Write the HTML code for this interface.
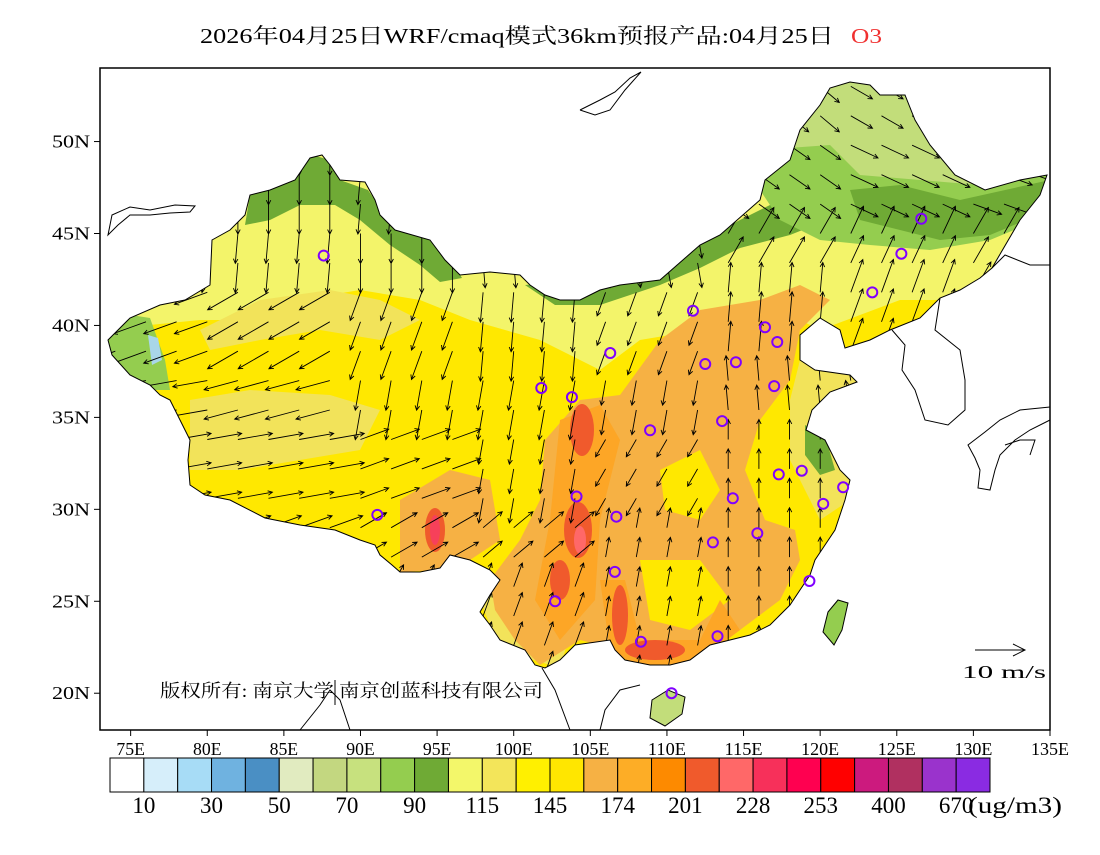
<!DOCTYPE html>
<html><head><meta charset="utf-8"><style>
body{margin:0;background:#fff}
svg text{font-family:"Liberation Serif","Noto Serif CJK SC",serif}
</style></head><body>
<svg id="chart" width="1100" height="850" viewBox="0 0 1100 850" xmlns="http://www.w3.org/2000/svg">
<defs>
<clipPath id="cn"><path id="cnpath" d="M108,340 L130,318 L160,305 L185,300 L210,285 L212,240 L230,230 L245,215 L250,195 L270,190 L295,180 L310,158 L322,155 L330,165 L340,180 L365,182 L375,200 L380,215 L395,230 L430,240 L445,260 L460,275 L490,272 L520,275 L530,285 L545,295 L560,300 L580,300 L600,290 L620,285 L660,280 L700,245 L720,235 L760,200 L765,180 L790,160 L800,130 L820,105 L830,88 L850,82 L870,85 L880,95 L905,95 L915,120 L930,145 L955,175 L985,190 L1020,180 L1047,175 L1040,195 L1020,220 L992,268 L980,278 L960,290 L940,298 L920,318 L890,330 L870,340 L845,348 L840,330 L820,318 L800,335 L800,360 L815,370 L850,375 L857,382 L830,392 L812,410 L806,430 L825,440 L840,470 L850,480 L845,500 L840,515 L835,530 L825,545 L815,560 L810,575 L800,590 L790,605 L770,625 L750,635 L730,640 L710,645 L690,660 L670,665 L650,665 L625,660 L615,650 L610,640 L575,645 L560,660 L545,668 L535,665 L525,650 L500,640 L490,625 L480,612 L490,595 L500,580 L490,570 L470,560 L450,555 L440,568 L420,572 L400,572 L392,565 L380,555 L375,545 L360,540 L335,530 L300,525 L265,518 L230,500 L205,495 L190,485 L188,460 L190,440 L180,420 L170,400 L160,395 L150,385 L130,375 L112,355 Z"/></clipPath>
</defs>
<rect x="0" y="0" width="1100" height="850" fill="#fff"/>
<text x="200" y="43" font-size="21" fill="#000" textLength="634" lengthAdjust="spacingAndGlyphs" font-family="Liberation Serif, Noto Serif CJK SC, serif">2026年04月25日WRF/cmaq模式36km预报产品:04月25日</text>
<text x="851" y="43" font-size="21" fill="#f03030" textLength="31" lengthAdjust="spacingAndGlyphs">O3</text>

<g>
<g clip-path="url(#cn)">
 <rect x="100" y="68" width="950" height="662" fill="#FFE800"/>
 <path fill="#F3F46A" d="M100,68 L1050,68 L1050,300 L900,300 L820,330 L760,300 L700,330 L640,340 L600,370 L540,340 L470,320 L420,300 L360,290 L300,300 L250,320 L200,320 L100,330Z"/>
 <path fill="#F2E35A" d="M200,330 L260,300 L330,290 L380,300 L420,320 L380,340 L320,330 L260,340 L210,350Z"/>
 <path fill="#F2E35A" d="M190,400 L250,390 L330,395 L380,410 L360,450 L300,460 L240,470 L190,470Z"/>
 <path fill="#F2E35A" d="M800,360 L860,370 L850,500 L820,520 L790,460 L790,400Z"/>
 <path fill="#F2E35A" d="M480,600 L540,560 L580,600 L560,668 L500,650Z"/>
 <path fill="#6FAA35" d="M245,225 L250,195 L295,180 L312,155 L330,160 L340,180 L368,190 L395,230 L440,242 L462,278 L440,282 L420,265 L390,245 L360,220 L335,205 L300,205 L270,220Z"/>
 <path fill="#94CD4F" d="M100,310 L150,318 L165,360 L170,390 L140,390 L100,370Z"/>
 <path fill="#A9D6E8" d="M148,335 L158,338 L162,360 L152,365Z"/>
 <path fill="#6FAA35" d="M525,285 L560,282 L600,285 L650,265 L700,240 L740,220 L780,200 L805,185 L840,215 L790,235 L740,248 L700,268 L660,285 L600,305 L555,305Z"/>
 <path fill="#C2DD7A" d="M750,68 L1050,68 L1050,200 L990,225 L930,230 L870,225 L820,215 L770,195 L750,180Z"/>
 <path fill="#94CD4F" d="M760,150 L830,145 L860,175 L920,180 L980,185 L1050,175 L1050,215 L990,240 L930,250 L870,245 L820,240 L780,220 L760,190Z"/>
 <path fill="#6FAA35" d="M850,190 L900,185 L960,200 L1050,180 L1050,210 L990,235 L940,240 L900,230 L860,220Z"/>
 <path fill="#6FAA35" d="M805,425 L825,435 L835,470 L820,475 L805,455Z"/>
 <path fill="#F6B144" d="M545,440 L580,400 L620,395 L660,340 L700,310 L760,300 L800,285 L830,300 L800,330 L790,380 L760,420 L745,470 L765,520 L795,530 L800,560 L780,600 L740,630 L700,660 L650,668 L620,650 L580,640 L540,665 L515,640 L495,610 L490,580 L520,540 L540,500Z"/>
 <path fill="#F6B144" d="M400,500 L450,470 L490,480 L500,540 L470,560 L440,570 L400,572Z"/>
 <path fill="#FFE800" d="M640,560 L700,560 L730,600 L690,630 L650,620Z"/>
 <path fill="#FFE800" d="M660,470 L700,450 L720,490 L700,520 L665,510Z"/>
 <path fill="#FDA626" d="M560,420 L600,405 L620,440 L600,520 L595,600 L560,640 L535,600 L550,520Z"/>
 <path fill="#FDA626" d="M600,580 L625,580 L640,640 L700,640 L720,600 L740,630 L700,660 L640,668 L610,650Z"/>
 <ellipse cx="582" cy="430" rx="12" ry="26" fill="#F05A2C"/>
 <ellipse cx="578" cy="530" rx="14" ry="28" fill="#F05A2C"/>
 <ellipse cx="560" cy="580" rx="10" ry="20" fill="#F05A2C"/>
 <ellipse cx="620" cy="615" rx="8" ry="30" fill="#F05A2C"/>
 <ellipse cx="655" cy="650" rx="30" ry="10" fill="#F05A2C"/>
 <ellipse cx="435" cy="530" rx="10" ry="22" fill="#F05A2C"/>
 <ellipse cx="435" cy="530" rx="5" ry="15" fill="#F7405A"/>
 <ellipse cx="580" cy="540" rx="6" ry="14" fill="#FF6868"/>
 <g id="arrows"></g>
</g>
<use href="#cnpath" fill="none" stroke="#000" stroke-width="1"/>
<path d="M652,700 L668,690 L685,697 L682,714 L665,726 L650,718Z" fill="#C2DD7A" stroke="#000"/>
<path d="M838,600 L848,603 L842,630 L834,645 L823,632 L828,612Z" fill="#94CD4F" stroke="#000"/>
<g fill="none" stroke="#000" stroke-width="1">
 <path d="M580,110 L600,100 L615,92 L630,78 L641,72 M580,110 L595,115 L610,110 L625,90 L641,72"/>
 <path d="M108,235 L112,215 L130,207 L150,210 L175,205 L195,206 L190,212 L170,213 L150,215 L130,215 L118,225 Z"/>
 <path d="M992,268 L1005,255 L1030,265 L1050,265 M940,298 L935,330 L960,350 L965,380 L965,410 L948,425 L925,420 L915,390 L902,370 L905,345 L892,330"/>
 <path d="M1050,407 L1020,410 L1000,420 L985,432 L968,445 L975,458 L980,470 L978,488 L990,490 L995,470 L1000,455 L1015,440 L1030,430 L1050,420 M1005,445 L1020,440 L1035,440 L1030,455"/>
 <path d="M300,730 L320,705 L330,690 L340,700 L350,730 M600,730 L605,710 L620,690 L640,685 M542,668 L555,690 L570,730"/>
</g>
<g id="stations" fill="none" stroke="#8000ff" stroke-width="2"></g>
<g id="legend-arrow">
 <line x1="975" y1="650" x2="1025" y2="650" stroke="#000"/>
 <path d="M1013,644 L1025,650 L1013,656" fill="none" stroke="#000"/>
 <text x="962" y="678" font-size="18" textLength="84" lengthAdjust="spacingAndGlyphs">10 m/s</text>
</g>
<text x="160" y="697" font-size="18" textLength="383" lengthAdjust="spacingAndGlyphs" font-family="Noto Serif CJK SC, serif">版权所有: 南京大学  南京创蓝科技有限公司</text>
<line x1="335" y1="680" x2="335" y2="705" stroke="#000"/>
<rect x="100" y="68" width="950" height="662" fill="none" stroke="#000" stroke-width="1.5"/>
</g>
<g id="axes"></g>
<g id="colorbar"></g>
<text x="968" y="813" font-size="23" textLength="94" lengthAdjust="spacingAndGlyphs">(ug/m3)</text>
</svg>
<script>
const NS='http://www.w3.org/2000/svg';
const lonTicks=[75,80,85,90,95,100,105,110,115,120,125,130,135];
const latTicks=[20,25,30,35,40,45,50];
const cbColors=['#FFFFFF','#D6EEFA','#A7DCF6','#6FB2E0','#4A8FC4','#E1EBC0','#C3D780','#C7E17E','#94CD4F','#6FAA35','#F3F76A','#F3E55A','#FFF000','#FFE600','#F6B144','#FDAD26','#FD8A00','#F05A2C','#FF6868','#F7305A','#FF0050','#FF0000','#CC1A7E','#B03060','#9A33CC','#8A2BE2'];
const cbLabels=['10','30','50','70','90','115','145','174','201','228','253','400','670'];
const stationLon=[87.6,91.1,101.8,103.8,106.3,111.7,112.5,114.5,116.4,117.2,117.0,113.6,108.9,104.1,106.6,113.0,114.3,115.9,117.3,118.8,120.2,121.5,119.3,102.7,106.7,108.3,113.3,110.3,125.3,123.4,126.6];
const stationLat=[43.8,29.7,36.6,36.1,38.5,40.8,37.9,38.0,39.9,39.1,36.7,34.8,34.3,30.7,26.6,28.2,30.6,28.7,31.9,32.1,30.3,31.2,26.1,25.0,29.6,22.8,23.1,20.0,43.9,41.8,45.8];
const gridLatEdges=[54,50,46,42,38,34,30,26,18];
const gridLonEdges=[73,81,89,97,105,113,121,129,135];
const windDir=[
 [95,95,95,90,60,40,30,30],
 [90,90,95,90,60,35,25,20],
 [100,95,90,85,80,-60,-65,-60],
 [160,150,110,95,110,-85,-70,-60],
 [170,165,100,100,100,-95,-100,-90],
 [-10,-10,-20,100,120,-90,-90,-90],
 [-20,-20,-30,-40,-80,-90,-95,-95],
 [-60,-60,-60,-70,-80,-90,-90,-90]];
const windSpd=[
 [6,6,6,5,5,5,5,5],
 [6,6,6,5,5,5,6,6],
 [6,6,6,5,5,6,6,6],
 [7,7,6,6,5,6,7,7],
 [7,7,6,6,5,5,6,6],
 [7,7,6,5,4,4,5,5],
 [7,7,6,5,4,4,5,5],
 [5,5,5,5,4,4,5,5]];

const X=lon=>100+(lon-73)*(950/62);
const Y=lat=>68+(54-lat)*(662/36);

const axes=document.getElementById('axes');
lonTicks.forEach(l=>{
 const t=document.createElementNS(NS,'line');
 t.setAttribute('x1',X(l));t.setAttribute('x2',X(l));t.setAttribute('y1',730);t.setAttribute('y2',736);t.setAttribute('stroke','#000');
 
 
 axes.appendChild(t);
 const s=document.createElementNS(NS,'text');
 const lab=l+'E';
 s.setAttribute('x',X(l)-(lab.length*9.5)/2);s.setAttribute('y',755);s.setAttribute('font-size','18');
 s.setAttribute('textLength',lab.length*9.5);s.setAttribute('lengthAdjust','spacingAndGlyphs');
 s.textContent=lab;
 
 
 axes.appendChild(s);
});
latTicks.forEach(l=>{
 const t=document.createElementNS(NS,'line');
 t.setAttribute('x1',94);t.setAttribute('x2',100);t.setAttribute('y1',Y(l));t.setAttribute('y2',Y(l));t.setAttribute('stroke','#000');
 
 
 axes.appendChild(t);
 const s=document.createElementNS(NS,'text');
 s.setAttribute('x',52);s.setAttribute('y',Y(l)+6);s.setAttribute('font-size','18');
 s.setAttribute('textLength',38);s.setAttribute('lengthAdjust','spacingAndGlyphs');
 s.textContent=l+'N';
 
 
 axes.appendChild(s);
});

const cb=document.getElementById('colorbar');
const cbX=110,cbW=880/cbColors.length;
cbColors.forEach((c,i)=>{
 const r=document.createElementNS(NS,'rect');
 r.setAttribute('x',cbX+i*cbW);r.setAttribute('y',758);r.setAttribute('width',cbW);r.setAttribute('height',34);
 r.setAttribute('fill',c);r.setAttribute('stroke','#000');r.setAttribute('stroke-width','1');
 
 
 cb.appendChild(r);
});
cbLabels.forEach((l,i)=>{
 const s=document.createElementNS(NS,'text');
 s.setAttribute('x',cbX+(2*i+1)*cbW);s.setAttribute('y',813);s.setAttribute('text-anchor','middle');s.setAttribute('font-size','23');
 s.textContent=l;
 
 
 cb.appendChild(s);
});

const st=document.getElementById('stations');
stationLon.forEach((lo,i)=>{
 const c=document.createElementNS(NS,'circle');
 c.setAttribute('cx',X(lo));c.setAttribute('cy',Y(stationLat[i]));c.setAttribute('r',5);
 
 
 st.appendChild(c);
});

function bin(edges,v,desc){for(let i=0;i<edges.length-1;i++){if(desc?(v<=edges[i]&&v>edges[i+1]):(v>=edges[i]&&v<edges[i+1]))return i;}return edges.length-2;}
const ar=document.getElementById('arrows');
let d='';
for(let lat=53;lat>18;lat-=1.6){
 for(let lon=74;lon<135;lon+=2.0){
  const r=bin(gridLatEdges,lat,true),c=bin(gridLonEdges,lon,false);
  const a=windDir[r][c]*Math.PI/180,L=windSpd[r][c]*5;
  const x0=X(lon),y0=Y(lat),x1=x0+L*Math.cos(a),y1=y0+L*Math.sin(a);
  const h=5,b1=a+Math.PI*0.85,b2=a-Math.PI*0.85;
  d+=`M${x0.toFixed(1)},${y0.toFixed(1)}L${x1.toFixed(1)},${y1.toFixed(1)}M${(x1+h*Math.cos(b1)).toFixed(1)},${(y1+h*Math.sin(b1)).toFixed(1)}L${x1.toFixed(1)},${y1.toFixed(1)}L${(x1+h*Math.cos(b2)).toFixed(1)},${(y1+h*Math.sin(b2)).toFixed(1)}`;
 }
}
const p=document.createElementNS(NS,'path');
p.setAttribute('d',d);p.setAttribute('stroke','#000');p.setAttribute('fill','none');p.setAttribute('stroke-width','0.9');


ar.appendChild(p);
</script>
</body></html>
